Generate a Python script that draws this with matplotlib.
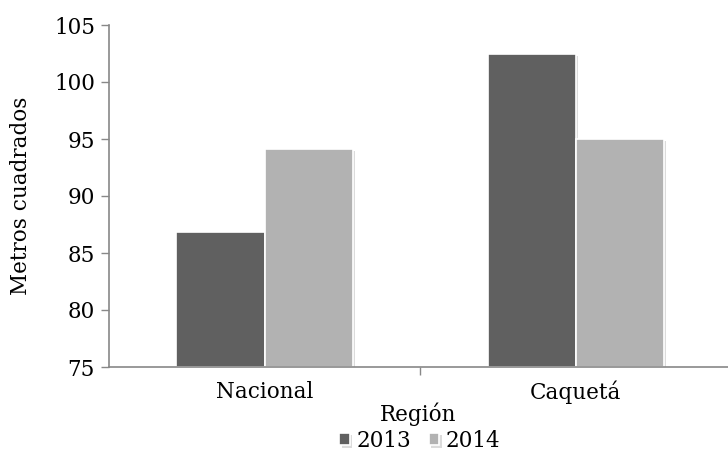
import matplotlib
matplotlib.use("Agg")
import matplotlib.pyplot as plt
import matplotlib.patheffects as pe
import numpy as np

categories = ["Nacional", "Caquetá"]
series_names = ["2013", "2014"]
values_2013 = [86.8, 102.5]
values_2014 = [94.1, 95.0]
yticks = [75, 80, 85, 90, 95, 100, 105]

plt.rcParams['font.family'] = ['DejaVu Serif']
FS = 15.5

fig = plt.figure(figsize=(7.28, 4.57), dpi=100)
ax = fig.add_axes([109/728, 1-367/457, 1-109/728, (367-25)/457])

x = np.arange(len(categories))
w = 0.283
colors = ["#606060", "#b2b2b2"]
shadow = [pe.SimplePatchShadow(offset=(1.5, -1.5), shadow_rgbFace="#999999", alpha=0.35), pe.Normal()]
ax.bar(x - w/2, np.array(values_2013) - 75, w, bottom=75, color=colors[0],
       edgecolor="white", linewidth=1.2, label=series_names[0], path_effects=shadow)
ax.bar(x + w/2, np.array(values_2014) - 75, w, bottom=75, color=colors[1],
       edgecolor="white", linewidth=1.2, label=series_names[1], path_effects=shadow)

ax.set_ylim(75, 105)
ax.set_xlim(-0.5, 1.49)
ax.set_yticks(yticks)
ax.set_yticklabels([str(t) for t in yticks], fontsize=FS)
ax.set_xticks(x)
ax.set_xticklabels(categories, fontsize=FS)
ax.tick_params(axis='x', length=0, pad=10)
ax.set_xticks([0.5], minor=True)
ax.tick_params(axis='x', which='minor', length=6, color="#888888", width=1)
ax.tick_params(axis='y', length=6, color="#888888", width=1, pad=4)

for s in ["top", "right"]:
    ax.spines[s].set_visible(False)
for s in ["left", "bottom"]:
    ax.spines[s].set_color("#888888")
    ax.spines[s].set_linewidth(1.2)

ax.set_ylabel("Metros cuadrados", fontsize=FS)
ax.yaxis.label.set_va("center")
ax.yaxis.set_label_coords(-(109-21)/(728-109), 0.5)
ax.set_xlabel("Región", fontsize=FS)
ax.xaxis.label.set_va("center")
ax.xaxis.set_label_coords(0.5, -(414-367)/342)

leg = fig.legend(loc="center", bbox_to_anchor=(420/728, 1-441/457), ncol=2,
                 frameon=False, fontsize=FS, handlelength=0.5, handleheight=0.5,
                 handletextpad=0.3, columnspacing=0.8)

fig.savefig("out.png", dpi=100)
